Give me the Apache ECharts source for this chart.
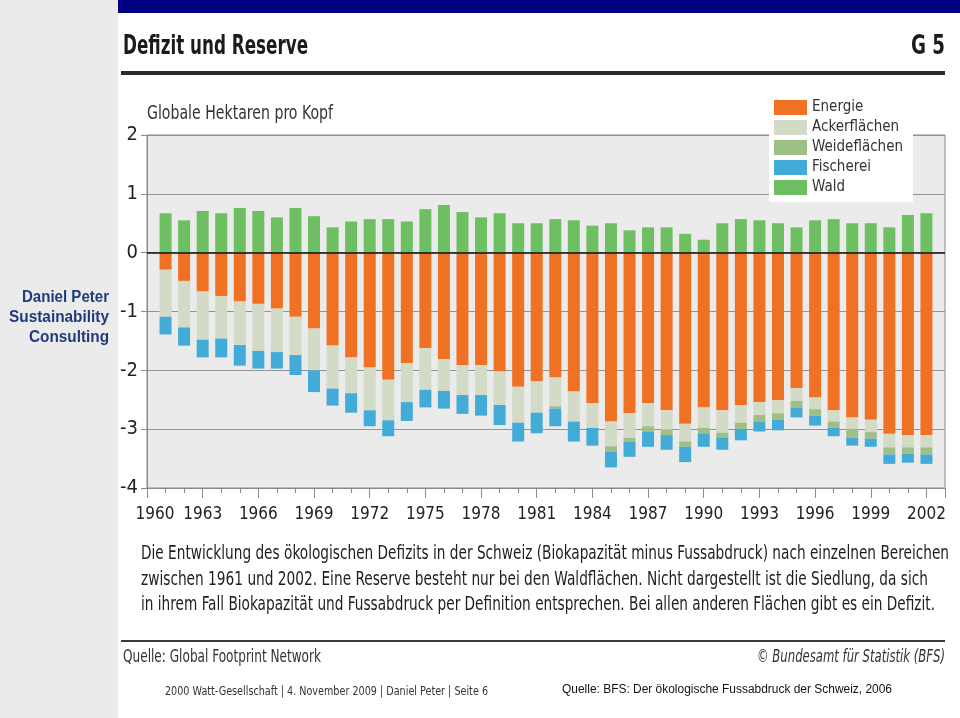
<!DOCTYPE html>
<html><head><meta charset="utf-8">
<script src="https://cdn.jsdelivr.net/npm/echarts@6/dist/echarts.min.js"></script>
<style>html,body{margin:0;padding:0;background:#fff}#c{width:960px;height:718px}</style>
</head><body><div id="c"></div>
<script>
const years = [1961,1962,1963,1964,1965,1966,1967,1968,1969,1970,
  1971,1972,1973,1974,1975,1976,1977,1978,1979,1980,
  1981,1982,1983,1984,1985,1986,1987,1988,1989,1990,
  1991,1992,1993,1994,1995,1996,1997,1998,1999,2000,2001,2002];
const energie = [-0.29,-0.48,-0.66,-0.74,-0.83,-0.87,-0.95,-1.09,-1.29,-1.58,
  -1.78,-1.95,-2.16,-1.88,-1.62,-1.81,-1.91,-1.91,-2.02,-2.28,
  -2.19,-2.12,-2.36,-2.56,-2.87,-2.73,-2.56,-2.68,-2.91,-2.63,
  -2.68,-2.59,-2.54,-2.51,-2.30,-2.46,-2.68,-2.80,-2.84,-3.08,-3.10,-3.10];
const ackerflaechen = [-0.80,-0.79,-0.82,-0.72,-0.74,-0.80,-0.74,-0.65,-0.71,-0.73,
  -0.61,-0.73,-0.69,-0.66,-0.71,-0.54,-0.51,-0.51,-0.57,-0.61,
  -0.53,-0.49,-0.51,-0.42,-0.42,-0.42,-0.39,-0.33,-0.30,-0.35,
  -0.38,-0.30,-0.22,-0.22,-0.22,-0.20,-0.19,-0.20,-0.21,-0.23,-0.21,-0.21];
const weideflaechen = [0,0,0,0,0,0,0,0,0,0,
  0,0,0,0,0,0,0,0,0,0,
  0,-0.04,0,0,-0.09,-0.06,-0.09,-0.09,-0.09,-0.09,
  -0.08,-0.11,-0.11,-0.11,-0.11,-0.11,-0.11,-0.15,-0.11,-0.12,-0.11,-0.12];
const fischerei = [-0.30,-0.31,-0.30,-0.32,-0.35,-0.30,-0.28,-0.34,-0.37,-0.29,
  -0.33,-0.27,-0.27,-0.32,-0.30,-0.30,-0.32,-0.35,-0.34,-0.32,
  -0.35,-0.30,-0.34,-0.30,-0.27,-0.26,-0.26,-0.25,-0.26,-0.23,
  -0.21,-0.19,-0.17,-0.18,-0.17,-0.17,-0.14,-0.13,-0.14,-0.16,-0.15,-0.16];
const wald = [0.67,0.55,0.71,0.67,0.76,0.71,0.60,0.76,0.62,0.43,
  0.53,0.57,0.57,0.53,0.74,0.81,0.69,0.60,0.67,0.50,
  0.50,0.57,0.55,0.46,0.50,0.38,0.43,0.43,0.32,0.22,
  0.50,0.57,0.55,0.50,0.43,0.55,0.57,0.50,0.50,0.43,0.64,0.67];
const seriesNames = ['Energie','Ackerflächen','Weideflächen','Fischerei','Wald'];
const seriesData = [energie, ackerflaechen, weideflaechen, fischerei, wald];
const seriesColors = ['#f07124','#d3dbc6','#9ec086','#43abd7','#6dbf62'];
const yMin = -4, yMax = 2, yStep = 1;
const xMin = 1960, xMax = 2003, xStep = 3;
// category slots span the same range as the value axis (1960 .. 2003)
const slotYears = [xMin].concat(years, [xMax]).map(String);

const NARROW = '"Liberation Sans Narrow","DejaVu Sans Condensed","Open Sans",sans-serif';
const cv = document.createElement('canvas').getContext('2d');
function fit(text, font, w) { cv.font = font; const m = cv.measureText(text).width; return m > 0 ? w / m : 1; }
function txt(text, x, y, size, w, opt) {
  opt = opt || {};
  const weight = opt.weight || 'normal';
  const style = opt.italic ? 'italic ' : '';
  const fam = opt.family || NARROW;
  const font = style + weight + ' ' + size + 'px ' + fam;
  return { type: 'text', x: x, y: y, scaleX: w ? fit(text, font, w) : 1, silent: true, z: 100,
    style: { text: text, font: font, fill: opt.color || '#222', textAlign: opt.align || 'left', textVerticalAlign: 'middle' } };
}

const chart = echarts.init(document.getElementById('c'), null, { renderer: 'canvas' });
const axisGrey = '#8a8a8a';
const series = seriesNames.map((n, k) => ({
  name: n, type: 'bar', stack: 'total', barWidth: 12, xAxisIndex: 1,
  itemStyle: { color: seriesColors[k] },
  data: [null].concat(seriesData[k], [null])
}));
series[4].markLine = { silent: true, symbol: 'none', label: { show: false },
  lineStyle: { color: '#111', width: 1.5, type: 'solid' }, data: [{ yAxis: 0 }] };

chart.setOption({
  animation: false,
  backgroundColor: '#ffffff',
  grid: { left: 147, right: 15, top: 135, bottom: 230, show: true, backgroundColor: '#ebebeb', borderColor: axisGrey, borderWidth: 1 },
  legend: { data: seriesNames, orient: 'vertical', left: 769, top: 93, icon: 'rect', itemWidth: 33, itemHeight: 15, itemGap: 5,
    backgroundColor: '#ffffff', padding: [7, 10, 7, 5], textStyle: { fontSize: 15, fontFamily: NARROW, color: '#333' } },
  xAxis: [
    { type: 'value', min: xMin, max: xMax, interval: xStep, position: 'bottom',
      axisLine: { show: true, onZero: false, lineStyle: { color: axisGrey } },
      axisTick: { show: true, length: 10, lineStyle: { color: axisGrey } },
      minorTick: { show: true, splitNumber: 3, length: 5, lineStyle: { color: axisGrey } },
      splitLine: { show: false },
      axisLabel: { margin: 18, fontSize: 17, fontFamily: NARROW, color: '#222',
        formatter: v => v === xMax ? '' : (v === xMin ? '{f|' + v + '}' : String(v)),
        rich: { f: { padding: [0, 0, 0, 16], fontSize: 17, fontFamily: NARROW, color: '#222' } } } },
    { type: 'category', data: slotYears, boundaryGap: false, show: false, position: 'top' }
  ],
  yAxis: { type: 'value', min: yMin, max: yMax, interval: yStep,
    axisLine: { show: true, onZero: false, lineStyle: { color: axisGrey } },
    axisTick: { show: true, length: 6, lineStyle: { color: axisGrey } },
    splitLine: { show: true, lineStyle: { color: '#939393', width: 1 } },
    axisLabel: { margin: 9, fontSize: 20, fontFamily: NARROW, color: '#222' } },
  series: series,
  graphic: [
    { type: 'rect', shape: { x: 0, y: 0, width: 118, height: 718 }, style: { fill: '#ebebeb' }, silent: true, z: 0 },
    { type: 'rect', shape: { x: 118, y: 0, width: 842, height: 13 }, style: { fill: '#000080' }, silent: true, z: 0 },
    { type: 'rect', shape: { x: 121, y: 71, width: 824, height: 4 }, style: { fill: '#2b2b2b' }, silent: true, z: 0 },
    { type: 'rect', shape: { x: 121, y: 640, width: 824, height: 2 }, style: { fill: '#3a3a3a' }, silent: true, z: 0 },
    txt('Defizit und Reserve', 123, 47, 27, 185, { weight: 'bold', color: '#1b1b1b' }),
    txt('G 5', 945, 47, 27, 34, { weight: 'bold', color: '#1b1b1b', align: 'right' }),
    txt('Globale Hektaren pro Kopf', 147, 114, 20, 186, { color: '#333' }),
    txt('Die Entwicklung des ökologischen Defizits in der Schweiz (Biokapazität minus Fussabdruck) nach einzelnen Bereichen', 141, 554, 20, 808, { color: '#1e1e1e' }),
    txt('zwischen 1961 und 2002. Eine Reserve besteht nur bei den Waldflächen. Nicht dargestellt ist die Siedlung, da sich', 141, 580, 20, 787, { color: '#1e1e1e' }),
    txt('in ihrem Fall Biokapazität und Fussabdruck per Definition entsprechen. Bei allen anderen Flächen gibt es ein Defizit.', 141, 605, 20, 794, { color: '#1e1e1e' }),
    txt('Quelle: Global Footprint Network', 123, 658, 17, 198, { color: '#333' }),
    txt('© Bundesamt für Statistik (BFS)', 945, 658, 17, 188, { color: '#333', italic: true, align: 'right' }),
    txt('2000 Watt-Gesellschaft | 4. November 2009 | Daniel Peter | Seite 6', 165, 692, 12, 323, { color: '#333', family: '"DejaVu Sans Condensed","DejaVu Sans",sans-serif' }),
    txt('Quelle: BFS: Der ökologische Fussabdruck der Schweiz, 2006', 562, 690, 12.5, 330, { color: '#111', family: '"Liberation Sans",Arial,sans-serif' }),
    txt('Daniel Peter', 109, 298, 16, 87, { weight: 'bold', color: '#1f3b7a', align: 'right', family: '"Liberation Sans",Arial,sans-serif' }),
    txt('Sustainability', 109, 318, 16, 100, { weight: 'bold', color: '#1f3b7a', align: 'right', family: '"Liberation Sans",Arial,sans-serif' }),
    txt('Consulting', 109, 338, 16, 80, { weight: 'bold', color: '#1f3b7a', align: 'right', family: '"Liberation Sans",Arial,sans-serif' })
  ]
});
</script></body></html>
